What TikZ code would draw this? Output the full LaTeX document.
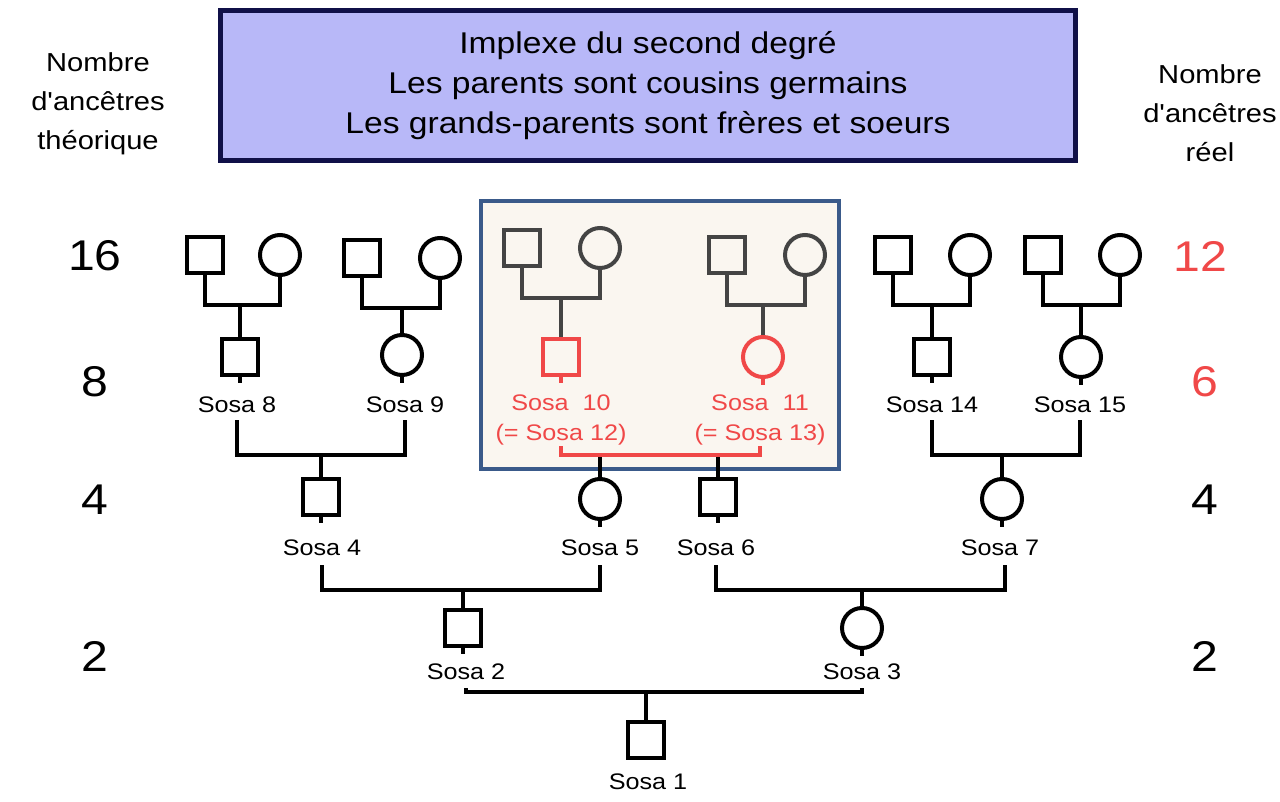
\documentclass[tikz,border=0pt]{standalone}
\usepackage{fontspec}
\usetikzlibrary{calc}
\setmainfont{Liberation Sans}[FakeStretch=1.12]
\newfontfamily\plainf{Liberation Sans}[FakeStretch=1.12]
\definecolor{redc}{HTML}{F04848}
\definecolor{grayc}{HTML}{444444}
\definecolor{lav}{HTML}{B8B8F8}
\definecolor{navy}{HTML}{101048}
\definecolor{steel}{HTML}{3A5A8A}
\definecolor{cream}{HTML}{FAF6F0}
\begin{document}
\begin{tikzpicture}[x=1pt,y=-1pt,
  m/.style={draw,line width=4pt,minimum size=36pt,inner sep=0pt},
  f/.style={draw,circle,line width=4pt,minimum size=40pt,inner sep=0pt},
  ln/.style={line width=4pt},
  lab/.style={font=\fontsize{22.5}{24}\selectfont,inner sep=0pt},
  big/.style={font=\fontsize{43}{46}\selectfont},
  side/.style={font=\plainf\fontsize{26}{39}\selectfont,align=center}]
\useasboundingbox (0,0) rectangle (1280,802);
% title
\node[draw=navy,fill=lav,line width=5pt,minimum width=855pt,minimum height=150pt,
  font=\fontsize{30}{40}\selectfont,align=center] (title) at (648,86)
  {Implexe du second degré\\Les parents sont cousins germains\\Les grands-parents sont frères et soeurs};
\node[side] (lt) at (98,104) {Nombre\\d'ancêtres\\théorique};
\node[side] (rt) at (1210,113) {Nombre\\d'ancêtres\\réel};
\node[big] (n16) at (95,256) {16};
\node[big] (n8) at (95,382) {8};
\node[big] (n4) at (95,500) {4};
\node[big] (n2) at (95,656) {2};
\node[big,text=redc] (r12) at (1200,256) {12};
\node[big,text=redc] (r6) at (1205,382) {6};
\node[big] (r4) at (1205,500) {4};
\node[big] (r2) at (1205,656) {2};
% highlight box
\node[draw=steel,fill=cream,line width=4pt,minimum width=358pt,minimum height=268pt] (hb) at (660,335) {};
% generation 16
\foreach \n/\x/\y/\s/\c in {a/205/255/m/black,b/280/255/f/black,c/362/258/m/black,d/440/258/f/black,
  e/522/248/m/grayc,g/600/248/f/grayc,h/727/255/m/grayc,i/805/255/f/grayc,
  j/893/255/m/black,k/970/255/f/black,l/1043/255/m/black,o/1120/255/f/black}
  \node[\s,draw=\c] (\n) at (\x,\y) {};
% generation 8
\node[m] (s8) at (240,357) {}; \node[lab] (l8) at (237,405) {Sosa 8};
\node[f] (s9) at (402,355) {}; \node[lab] (l9) at (405,405) {Sosa 9};
\node[m,draw=redc] (s10) at (561,357) {};
\node[lab,text=redc,align=center,font=\fontsize{22.5}{30}\selectfont] (l10) at (561,420) {Sosa\ \ 10\\(= Sosa 12)};
\node[f,draw=redc] (s11) at (763,357) {};
\node[lab,text=redc,align=center,font=\fontsize{22.5}{30}\selectfont] (l11) at (760,420) {Sosa\ \ 11\\(= Sosa 13)};
\node[m] (s14) at (932,357) {}; \node[lab] (l14) at (932,405) {Sosa 14};
\node[f] (s15) at (1081,357) {}; \node[lab] (l15) at (1080,405) {Sosa 15};
% generation 4
\node[m] (s4) at (321,497) {}; \node[lab] (l4) at (322,548) {Sosa 4};
\node[f] (s5) at (600,499) {}; \node[lab] (l5) at (600,548) {Sosa 5};
\node[m] (s6) at (718,497) {}; \node[lab] (l6) at (716,548) {Sosa 6};
\node[f] (s7) at (1002,499) {}; \node[lab] (l7) at (1000,548) {Sosa 7};
% generation 2
\node[m] (s2) at (463,628) {}; \node[lab] (l2) at (466,672) {Sosa 2};
\node[f] (s3) at (862,628) {}; \node[lab] (l3) at (862,672) {Sosa 3};
\node[m] (s1) at (646,740) {}; \node[lab] (l1) at (648,782) {Sosa 1};
% couple links gen 16 -> 8
\foreach \p/\q/\ch/\cl in {a/b/s8/black,c/d/s9/black,e/g/s10/grayc,h/i/s11/grayc,j/k/s14/black,l/o/s15/black}{
  \draw[ln,draw=\cl] (\p.south) -- ++(0,30) -| (\q.south);
  \draw[ln,draw=\cl] (\ch.north) -- (\ch.north |- {$(\p.south)+(0,30)$});
}
% stubs below nodes
\foreach \s in {s8,s9,s14,s15,s4,s5,s6,s7,s2,s3} \draw[ln] (\s.south) -- ++(0,6);
\draw[ln,redc] (s10.south) -- ++(0,6);
\draw[ln,redc] (s11.south) -- ++(0,6);
% gen 8 -> 4
\coordinate (a89) at (237,420); \coordinate (b89) at (405,420);
\draw[ln] (a89) -- ++(0,35) -| (b89);
\draw[ln] (s4.north) -- (s4.north |- 0,455);
\coordinate (a1415) at (932,420); \coordinate (b1415) at (1080,420);
\draw[ln] (a1415) -- ++(0,35) -| (b1415);
\draw[ln] (s7.north) -- (s7.north |- 0,455);
\draw[ln] (s5.north) -- (s5.north |- 0,455);
\draw[ln] (s6.north) -- (s6.north |- 0,455);
\draw[ln,redc] (561,446) -- (561,455) -- (760,455) -- (760,446);
% gen 4 -> 2
\draw[ln] (322,565) -- (322,590) -- (600,590) -- (600,565);
\draw[ln] (s2.north) -- (s2.north |- 0,590);
\draw[ln] (716,565) -- (716,590) -- (1005,590) -- (1005,565);
\draw[ln] (s3.north) -- (s3.north |- 0,590);
% gen 2 -> 1
\draw[ln] (466,688) -- (466,692) -- (862,692) -- (862,688);
\draw[ln] (s1.north) -- (s1.north |- 0,692);
\end{tikzpicture}
\end{document}
